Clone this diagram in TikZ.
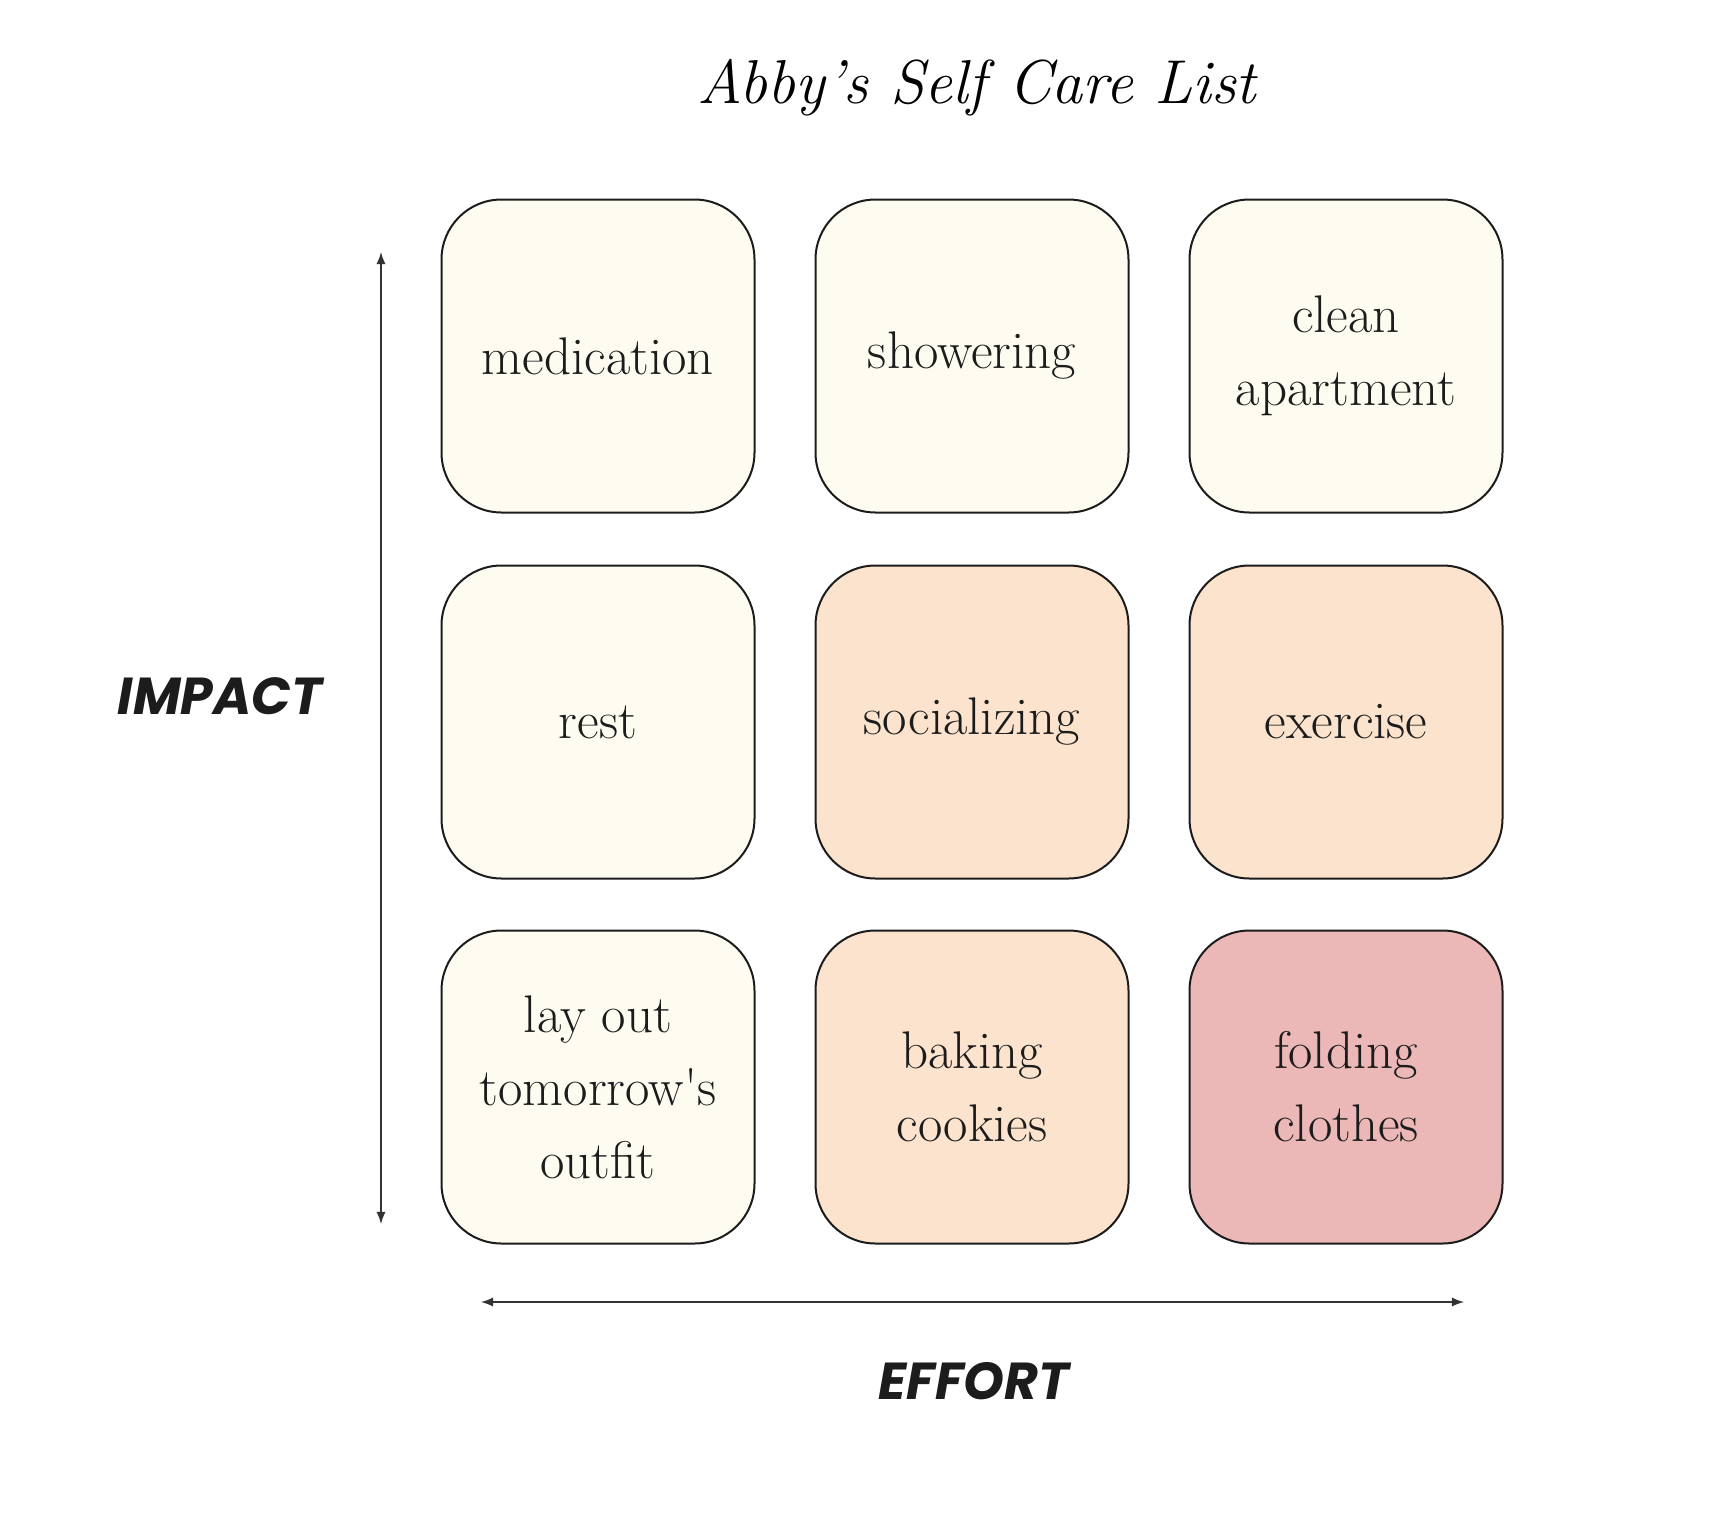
\documentclass[tikz,border=0pt]{standalone}
\usepackage{fontspec}
\newfontfamily\axisfont{Poppins}
\definecolor{cream}{HTML}{FEFCF0}
\definecolor{peach}{HTML}{FBE3CD}
\definecolor{rosy}{HTML}{EBB7B7}
\definecolor{ink}{HTML}{1C1C1C}
\tikzset{
  card/.style={draw=ink,line width=1pt,rounded corners=30pt,minimum width=156.5pt,minimum height=156.5pt,
    align=center,font=\fontsize{26.5}{36.5}\selectfont,text=ink,inner sep=0pt},
  axislabel/.style={font=\axisfont\bfseries\itshape\fontsize{26}{30}\selectfont,text=ink},
}
\begin{document}
\begin{tikzpicture}[x=0.5pt,y=-0.5pt]
        \useasboundingbox (0,0) rectangle (1726,1532);
        \node (title) at (977,88) {\fontsize{31}{36}\selectfont\itshape Abby's Self Care List};
        % top row
        \node[card,fill=cream] (med) at (598,356) {medication};
        \node[card,fill=cream] (shower) at (972,356) {showering};
        \node[card,fill=cream] (clean) at (1346,356) {clean\\apartment};
        % middle row
        \node[card,fill=cream] (rest) at (598,722) {rest};
        \node[card,fill=peach] (social) at (972,722) {socializing};
        \node[card,fill=peach] (exer) at (1346,722) {exercise};
        % bottom row
        \node[card,fill=cream] (outfit) at (598,1087) {lay out\\tomorrow\textquotesingle s\\outfit};
        \node[card,fill=peach] (bake) at (972,1087) {baking\\cookies};
        \node[card,fill=rosy] (fold) at (1346,1087) {folding\\clothes};
        % axes
        \coordinate (itop) at (381,252);
        \coordinate (ibot) at (381,1224);
        \coordinate (eleft) at (481,1302);
        \coordinate (eright) at (1464,1302);
        \draw[latex-latex,line width=1.1pt,draw=ink!90] (ibot)--(itop);
        \draw[latex-latex,line width=1.1pt,draw=ink!90] (eleft)--(eright);
        \node[axislabel] (impact) at (220,696) {IMPACT};
        \node[axislabel] (effort) at (974,1381) {EFFORT};
      \end{tikzpicture}
\end{document}
